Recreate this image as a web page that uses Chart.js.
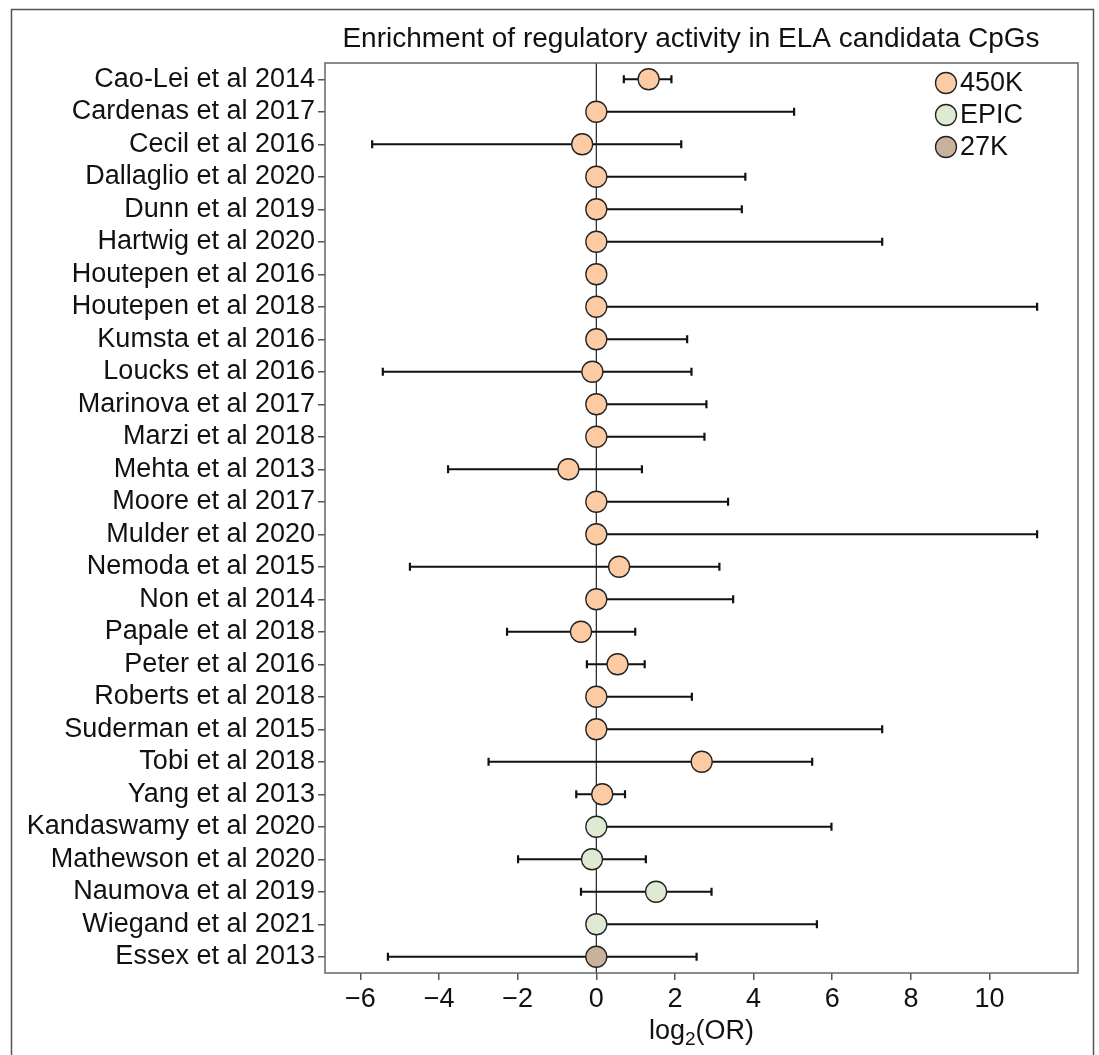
<!DOCTYPE html>
<html>
<head>
<meta charset="utf-8">
<script src="https://cdn.jsdelivr.net/npm/chart.js@4.4.0/dist/chart.umd.min.js"></script>
<style>
    html, body { margin: 0; padding: 0; background: #fff; }
    #wrap { position: relative; width: 1099px; height: 1055px; }
</style>
</head>
<body>
<div id="wrap"><canvas id="forestChart" width="1099" height="1055"></canvas></div>
<script>
// Data (log2 OR with confidence interval per study)
var studies = [
    'Cao-Lei et al 2014', 'Cardenas et al 2017', 'Cecil et al 2016', 'Dallaglio et al 2020',
    'Dunn et al 2019', 'Hartwig et al 2020', 'Houtepen et al 2016', 'Houtepen et al 2018',
    'Kumsta et al 2016', 'Loucks et al 2016', 'Marinova et al 2017', 'Marzi et al 2018',
    'Mehta et al 2013', 'Moore et al 2017', 'Mulder et al 2020', 'Nemoda et al 2015',
    'Non et al 2014', 'Papale et al 2018', 'Peter et al 2016', 'Roberts et al 2018',
    'Suderman et al 2015', 'Tobi et al 2018', 'Yang et al 2013', 'Kandaswamy et al 2020',
    'Mathewson et al 2020', 'Naumova et al 2019', 'Wiegand et al 2021', 'Essex et al 2013'
];
var estimate = [1.33, 0, -0.36, 0, 0, 0, 0, 0, 0, -0.10, 0, 0, -0.71, 0, 0, 0.58,
    0, -0.39, 0.54, 0, 0, 2.68, 0.15, 0, -0.11, 1.52, 0, 0];
var ciLow = [0.70, 0, -5.70, 0, 0, 0, 0, 0, 0, -5.43, 0, 0, -3.77, 0, 0, -4.74,
    0, -2.27, -0.24, 0, 0, -2.74, -0.51, 0, -1.99, -0.39, 0, -5.30];
var ciHigh = [1.91, 5.03, 2.16, 3.79, 3.70, 7.27, 0, 11.21, 2.31, 2.42, 2.80, 2.75, 1.16, 3.35, 11.21, 3.13,
    3.48, 0.99, 1.23, 2.43, 7.27, 5.49, 0.73, 5.98, 1.26, 2.93, 5.61, 2.55];
var platform = [
    '450K', '450K', '450K', '450K', '450K', '450K', '450K', '450K', '450K', '450K',
    '450K', '450K', '450K', '450K', '450K', '450K', '450K', '450K', '450K', '450K',
    '450K', '450K', '450K', 'EPIC', 'EPIC', 'EPIC', 'EPIC', '27K'
];
var platformNames = ['450K', 'EPIC', '27K'];
var platformColors = ['#fdcba3', '#deead1', '#c9b29b'];
var xTicks = [-6, -4, -2, 0, 2, 4, 6, 8, 10];
var chartTitle = 'Enrichment of regulatory activity in ELA candidata CpGs';

var FONT = '"Liberation Sans", Arial, Helvetica, sans-serif';

var forestPlugin = {
    id: 'forest',
    beforeDatasetsDraw: function (chart) {
        var ctx = chart.ctx;
        var x = chart.scales.x, y = chart.scales.y, area = chart.chartArea;
        ctx.save();
        // vertical line at zero
        var x0 = x.getPixelForValue(0);
        ctx.strokeStyle = '#222';
        ctx.lineWidth = 1.2;
        ctx.beginPath();
        ctx.moveTo(x0, area.top);
        ctx.lineTo(x0, area.bottom);
        ctx.stroke();
        // error bars
        ctx.strokeStyle = '#111';
        ctx.lineWidth = 2.2;
        for (var i = 0; i < studies.length; i++) {
            if (ciLow[i] === ciHigh[i]) continue;
            var yp = y.getPixelForValue(i);
            var xl = x.getPixelForValue(ciLow[i]);
            var xh = x.getPixelForValue(ciHigh[i]);
            ctx.beginPath();
            ctx.moveTo(xl, yp); ctx.lineTo(xh, yp);
            ctx.moveTo(xl, yp - 4); ctx.lineTo(xl, yp + 4);
            ctx.moveTo(xh, yp - 4); ctx.lineTo(xh, yp + 4);
            ctx.stroke();
        }
        ctx.restore();
    },
    afterDraw: function (chart) {
        var ctx = chart.ctx, area = chart.chartArea;
        ctx.save();
        // plot box
        ctx.strokeStyle = '#666';
        ctx.lineWidth = 1.5;
        ctx.strokeRect(area.left, area.top, area.right - area.left, area.bottom - area.top);
        // outer figure frame
        ctx.strokeStyle = '#555';
        ctx.strokeRect(11.5, 9.5, 1082, 1100);

        ctx.fillStyle = '#111';
        // title
        ctx.font = '28px ' + FONT;
        ctx.textAlign = 'center';
        ctx.textBaseline = 'middle';
        ctx.fillText(chartTitle, 691, 39);

        // x axis title: log2(OR) with subscript
        var cx = (area.left + area.right) / 2;
        ctx.font = '27px ' + FONT;
        var w1 = ctx.measureText('log').width;
        var w3 = ctx.measureText('(OR)').width;
        ctx.font = '19px ' + FONT;
        var w2 = ctx.measureText('2').width;
        var sx = cx - (w1 + w2 + w3) / 2;
        ctx.textAlign = 'left';
        ctx.textBaseline = 'alphabetic';
        ctx.font = '27px ' + FONT;
        ctx.fillText('log', sx, 1039);
        ctx.font = '19px ' + FONT;
        ctx.fillText('2', sx + w1, 1045);
        ctx.font = '27px ' + FONT;
        ctx.fillText('(OR)', sx + w1 + w2, 1039);

        // legend inside plot
        ctx.textBaseline = 'middle';
        chart.data.datasets.forEach(function (ds, k) {
            var ly = 83 + k * 32;
            ctx.beginPath();
            ctx.arc(946, ly, 10.5, 0, Math.PI * 2);
            ctx.fillStyle = ds.pointBackgroundColor;
            ctx.fill();
            ctx.strokeStyle = '#222';
            ctx.lineWidth = 1.3;
            ctx.stroke();
            ctx.fillStyle = '#111';
            ctx.font = '27px ' + FONT;
            ctx.fillText(ds.label, 960, ly + 1);
        });
        ctx.restore();
    }
};

function buildDatasets() {
    return platformNames.map(function (p, k) {
        var pts = [];
        for (var i = 0; i < studies.length; i++) {
            if (platform[i] === p) pts.push({ x: estimate[i], y: i });
        }
        return {
            label: p,
            data: pts,
            pointRadius: 10.5,
            pointHoverRadius: 10.5,
            pointBackgroundColor: platformColors[k],
            pointBorderColor: '#222',
            pointBorderWidth: 1.3,
            showLine: false
        };
    });
}

new Chart(document.getElementById('forestChart').getContext('2d'), {
    type: 'scatter',
    data: { datasets: buildDatasets() },
    options: {
        responsive: false,
        animation: false,
        layout: { padding: { top: 63, right: 21, bottom: 0, left: 0 } },
        plugins: {
            legend: { display: false },
            tooltip: { enabled: false },
            title: { display: false }
        },
        scales: {
            x: {
                type: 'linear',
                min: -6.9,
                max: 12.25,
                afterBuildTicks: function (scale) {
                    scale.ticks = xTicks.map(function (v) { return { value: v }; });
                },
                afterFit: function (scale) { scale.height = 82; },
                ticks: {
                    color: '#111',
                    font: { size: 27, family: FONT },
                    padding: 3,
                    callback: function (v) { return String(v).replace('-', '\u2212'); }
                },
                grid: { drawOnChartArea: false, drawTicks: true, tickLength: 7, color: '#555', lineWidth: 1.5 },
                border: { display: false }
            },
            y: {
                type: 'linear',
                reverse: true,
                min: -0.5,
                max: studies.length - 0.5,
                afterBuildTicks: function (scale) {
                    scale.ticks = studies.map(function (s, i) { return { value: i }; });
                },
                afterFit: function (scale) { scale.width = 325; },
                ticks: {
                    autoSkip: false,
                    color: '#111',
                    font: { size: 27, family: FONT },
                    padding: 3,
                    callback: function (v) { return studies[Math.round(v)]; }
                },
                grid: { drawOnChartArea: false, drawTicks: true, tickLength: 7, color: '#555', lineWidth: 1.5 },
                border: { display: false }
            }
        }
    },
    plugins: [forestPlugin]
});
</script>
</body>
</html>
